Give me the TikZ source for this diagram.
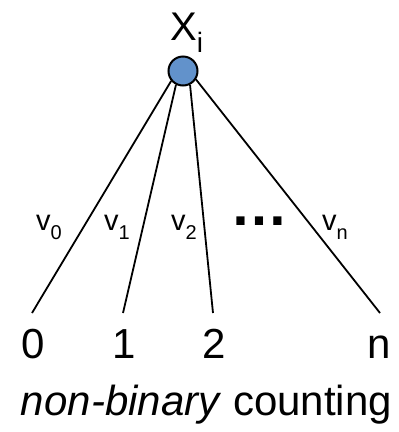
\documentclass[tikz,border=0pt]{standalone}
\usepackage{fontspec}
\setmainfont{Liberation Sans}
\definecolor{nodeblue}{RGB}{98,146,203}
\begin{document}
\begin{tikzpicture}[x=1pt,y=-1pt,
  vnode/.style={draw=black,line width=2pt,fill=nodeblue,circle,minimum size=29pt,inner sep=0pt},
  edge/.style={line width=1.8pt,draw=black},
  biglabel/.style={inner sep=0pt,anchor=base,font=\fontsize{42}{50}\selectfont},
  elabel/.style={inner sep=0pt,anchor=base west,font=\fontsize{29}{32}\selectfont}]
\useasboundingbox (0,0) rectangle (399,432);
\node[vnode] (x) at (183,71) {};
\node[inner sep=0pt,anchor=base west,font=\fontsize{40}{48}\selectfont] (xl) at (170,40)
  {X\raisebox{-12pt}{\fontsize{28}{28}\selectfont i}};
\node[biglabel] (l0) at (33,358) {0};
\node[biglabel] (l1) at (124,358) {1};
\node[biglabel] (l2) at (214,358) {2};
\node[biglabel] (ln) at (379,358) {n};
\coordinate (e0) at (32,313);
\coordinate (e1) at (123,313);
\coordinate (e2) at (213,313);
\coordinate (en) at (380,313);
\draw[edge] (x.220) -- (e0);
\draw[edge] (x.243) -- (e1);
\draw[edge] (x.297) -- (e2);
\draw[edge] (x.327) -- (en);
\node[elabel] (v0) at (36,230) {v\raisebox{-9.5pt}{\fontsize{20}{20}\selectfont 0}};
\node[elabel] (v1) at (104,230) {v\raisebox{-9.5pt}{\fontsize{20}{20}\selectfont 1}};
\node[elabel] (v2) at (171,230) {v\raisebox{-9.5pt}{\fontsize{20}{20}\selectfont 2}};
\node[elabel] (vn) at (322,230) {v\raisebox{-9.5pt}{\fontsize{20}{20}\selectfont n}};
\node[inner sep=0pt,anchor=base,font=\bfseries\fontsize{58}{60}\selectfont] (dots) at (259,225) {…};
\node[inner sep=0pt,anchor=base,font=\fontsize{42}{50}\selectfont] (cap) at (206.5,415) {\textit{non-binary} counting};
\end{tikzpicture}
\end{document}
